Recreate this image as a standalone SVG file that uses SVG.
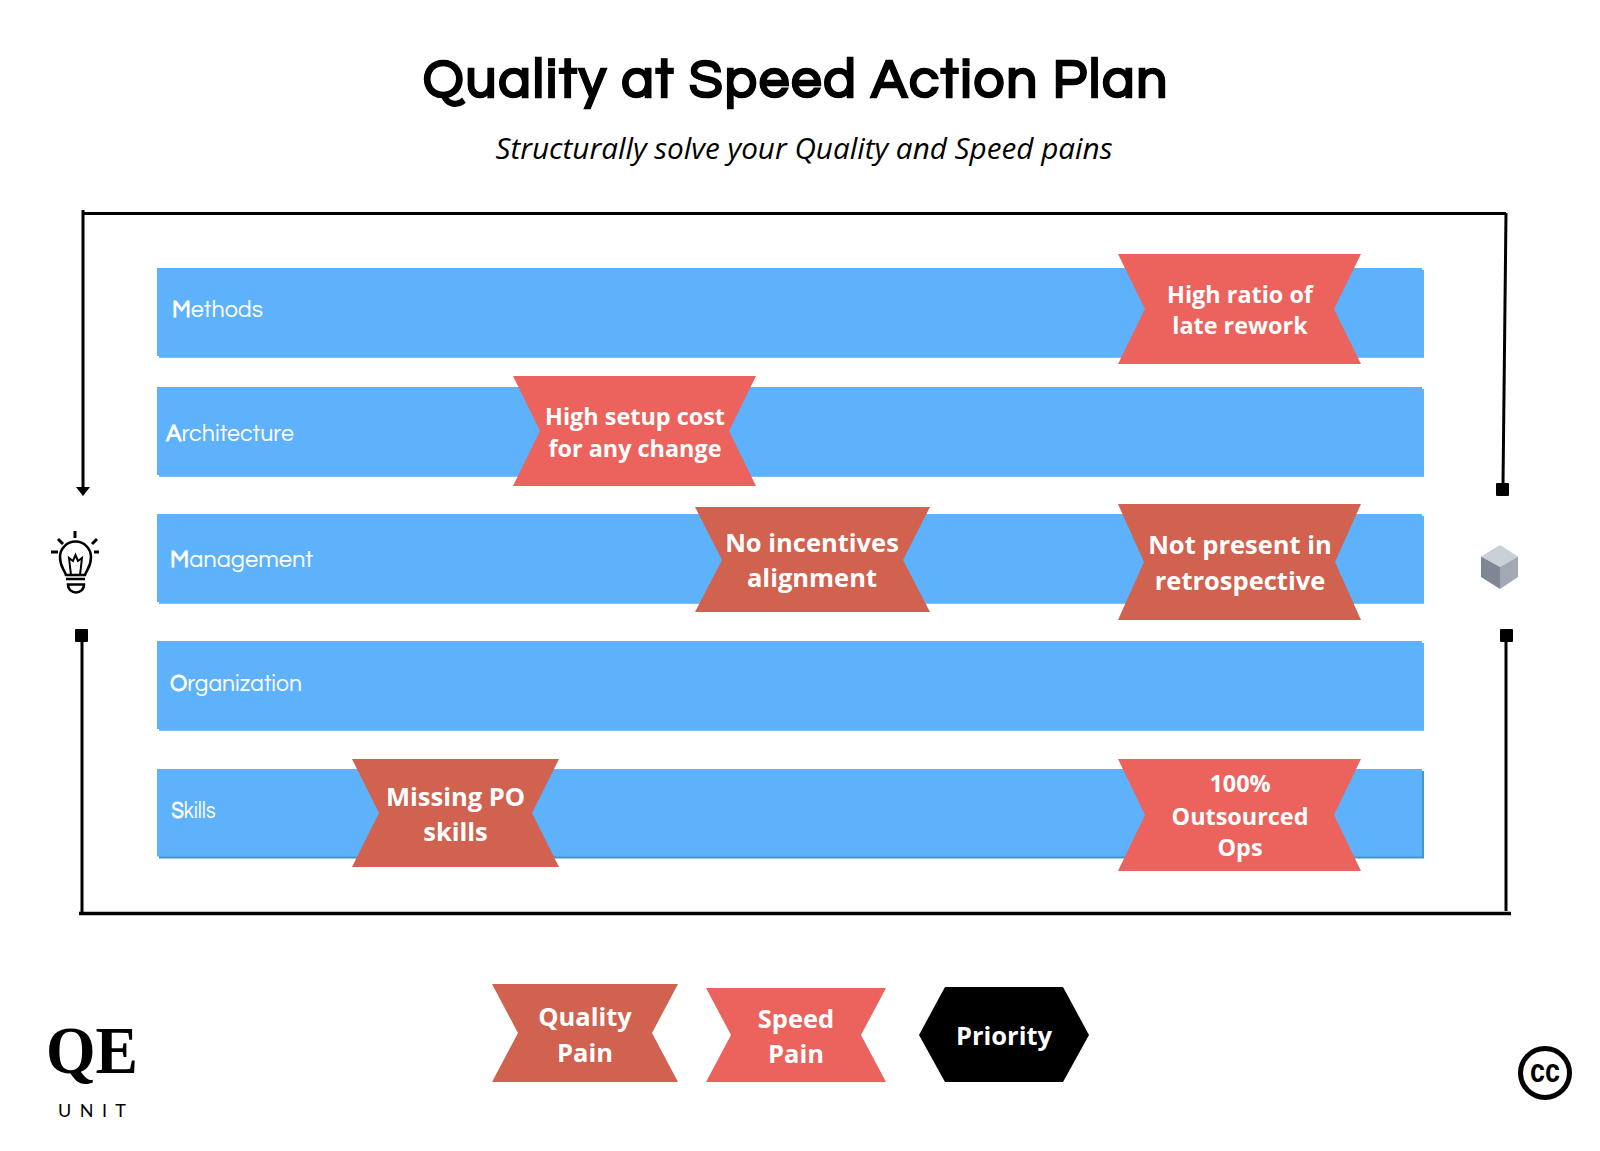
<svg xmlns="http://www.w3.org/2000/svg" width="1600" height="1151" viewBox="0 0 1600 1151">
<style>
.bar{fill:#5eb1fb}
.sh{fill:#7cc0fb}
.shd{fill:#4397c6}
.q{fill:#d1624f}
.s{fill:#ec635e}
.lb{font-family:"Open Sans","Noto Sans",sans-serif;font-weight:700;fill:#fff;text-anchor:middle}
.bl{font-family:"Questrial","Lato","Liberation Sans",sans-serif;font-size:23px;fill:#fff}
.bl tspan{font-weight:700}
.ln{fill:none;stroke:#000;stroke-width:3}
</style>
<rect width="1600" height="1151" fill="#fff"/>
<text x="795" y="97" text-anchor="middle" font-family="Questrial,Liberation Sans,sans-serif" font-weight="700" font-size="54" fill="#000" stroke="#000" stroke-width="1" textLength="744" lengthAdjust="spacing">Quality at Speed Action Plan</text>
<text x="804" y="159" text-anchor="middle" font-family="Open Sans,sans-serif" font-style="italic" font-size="29.7" fill="#000">Structurally solve your Quality and Speed pains</text>
<g id="connectors">
<path class="ln" d="M83 213.500H1506M83 210V490"/>
<path d="M76 487H90L83 496Z"/>
<path class="ln" d="M1506 213L1503 485"/>
<rect x="1496" y="483" width="13" height="13" rx="1"/>
<path class="ln" d="M82 630V913M1506 630V911"/>
<path d="M79 913.500H1511" fill="none" stroke="#000" stroke-width="3.500"/>
<rect x="75" y="629" width="13" height="13" rx="1"/>
<rect x="1500" y="629" width="13" height="13" rx="1"/>
</g>
<g id="methods"><rect class="sh" x="159" y="270" width="1265" height="88"/><rect class="bar" x="157" y="268" width="1265" height="88"/><rect class="bar" x="159" y="270" width="1265" height="87"/><text class="bl" x="172" y="317" textLength="91" lengthAdjust="spacingAndGlyphs"><tspan>M</tspan>ethods</text></g>
<g id="architecture"><rect class="sh" x="159" y="389" width="1265" height="88"/><rect class="bar" x="157" y="387" width="1265" height="88"/><rect class="bar" x="159" y="389" width="1265" height="87"/><text class="bl" x="166" y="440.500" textLength="128" lengthAdjust="spacingAndGlyphs"><tspan>A</tspan>rchitecture</text></g>
<g id="management"><rect class="sh" x="159" y="516" width="1265" height="88"/><rect class="bar" x="157" y="514" width="1265" height="88"/><rect class="bar" x="159" y="516" width="1265" height="87"/><text class="bl" x="170" y="567" textLength="143" lengthAdjust="spacingAndGlyphs"><tspan>M</tspan>anagement</text></g>
<g id="organization"><rect class="sh" x="159" y="643" width="1265" height="88"/><rect class="bar" x="157" y="641" width="1265" height="88"/><rect class="bar" x="159" y="643" width="1265" height="87"/><text class="bl" x="170" y="691" textLength="132" lengthAdjust="spacingAndGlyphs"><tspan>O</tspan>rganization</text></g>
<g id="skills"><rect class="shd" x="159" y="771" width="1265" height="87.500"/><rect class="bar" x="157" y="769" width="1265" height="87.500"/><text class="bl" x="171.500" y="818" textLength="44" lengthAdjust="spacingAndGlyphs"><tspan>S</tspan>kills</text></g>
<g id="p1"><path class="s" d="M1118 254H1361L1334 309L1361 364H1118L1145 309Z"/><text class="lb" font-size="23.400" x="1240" y="303">High ratio of</text><text class="lb" font-size="23.400" x="1240" y="334">late rework</text></g>
<g id="p2"><path class="s" d="M513 376H756L729 431L756 486H513L540 431Z"/><text class="lb" font-size="23.400" x="635" y="425">High setup cost</text><text class="lb" font-size="23.400" x="635" y="457">for any change</text></g>
<g id="p3"><path class="q" d="M695 507H930L903 560L930 612H695L722 560Z"/><text class="lb" font-size="25.500" x="812" y="552">No incentives</text><text class="lb" font-size="25.500" x="812" y="587">alignment</text></g>
<g id="p4"><path class="q" d="M1118 504H1361L1335 562L1361 620H1118L1144 562Z"/><text class="lb" font-size="25.500" x="1240" y="554">Not present in</text><text class="lb" font-size="25.500" x="1240" y="590">retrospective</text></g>
<g id="p5"><path class="q" d="M352 759H559L532 813L559 867H352L379 813Z"/><text class="lb" font-size="25.500" x="455.500" y="806">Missing PO</text><text class="lb" font-size="25.500" x="455.500" y="841">skills</text></g>
<g id="p6"><path class="s" d="M1118 759H1361L1334 815L1361 871H1118L1145 815Z"/><text class="lb" font-size="23.400" x="1240" y="792">100%</text><text class="lb" font-size="23.400" x="1240" y="825">Outsourced</text><text class="lb" font-size="23.400" x="1240" y="856">Ops</text></g>
<g id="legend-quality"><path class="q" d="M492 984H678L652 1033L678 1082H492L518 1033Z"/><text class="lb" font-size="25.500" x="585" y="1026">Quality</text><text class="lb" font-size="25.500" x="585" y="1062">Pain</text></g>
<g id="legend-speed"><path class="s" d="M706 988H886L861 1035L886 1082H706L731 1035Z"/><text class="lb" font-size="25.500" x="796" y="1028">Speed</text><text class="lb" font-size="25.500" x="796" y="1063">Pain</text></g>
<g id="legend-priority"><path d="M945 987H1063L1089 1035L1063 1082H945L919 1035Z"/><text class="lb" font-size="25.500" x="1004" y="1045">Priority</text></g>
<g id="bulb" fill="none" stroke="#000" stroke-width="3">
<path d="M75 531V538M58 539L63 544M97 539L92 544M51 552H58M94 552H99"/>
<path d="M66 575C64 569 60 567 60 557A15.500 15.500 0 0 1 91 557C91 567 87 569 85 575Z" stroke-width="2.500"/>
<path d="M71 575L69 558L73 561L75.500 555L78 561L82 558L80 575" stroke-width="2"/>
<path d="M66 579H85M68 584.500H84C84 595 68 595 68 584.500Z" stroke-width="2.500"/>
</g>
<g id="cube">
<path d="M1481 556.500L1500 545L1518 556.500L1500 567Z" fill="#c8d0d8"/>
<path d="M1481 556.500L1500 567V589L1481 577Z" fill="#7f8795"/>
<path d="M1518 556.500V577L1500 589V567Z" fill="#a2a9b3"/>
</g>
<g id="logo">
<text x="46" y="1073" font-family="Liberation Serif,serif" font-weight="700" font-size="68" fill="#000" textLength="92" lengthAdjust="spacingAndGlyphs">QE</text>
<text x="58" y="1117" font-family="Lato,sans-serif" font-size="18" fill="#000" textLength="68">UNIT</text>
</g>
<g id="cc"><circle cx="1545" cy="1073" r="24.500" fill="none" stroke="#000" stroke-width="5"/><text x="1545" y="1082" text-anchor="middle" font-family="Liberation Sans,sans-serif" font-weight="700" font-size="33" fill="#000" textLength="30" lengthAdjust="spacingAndGlyphs">cc</text></g>
</svg>
